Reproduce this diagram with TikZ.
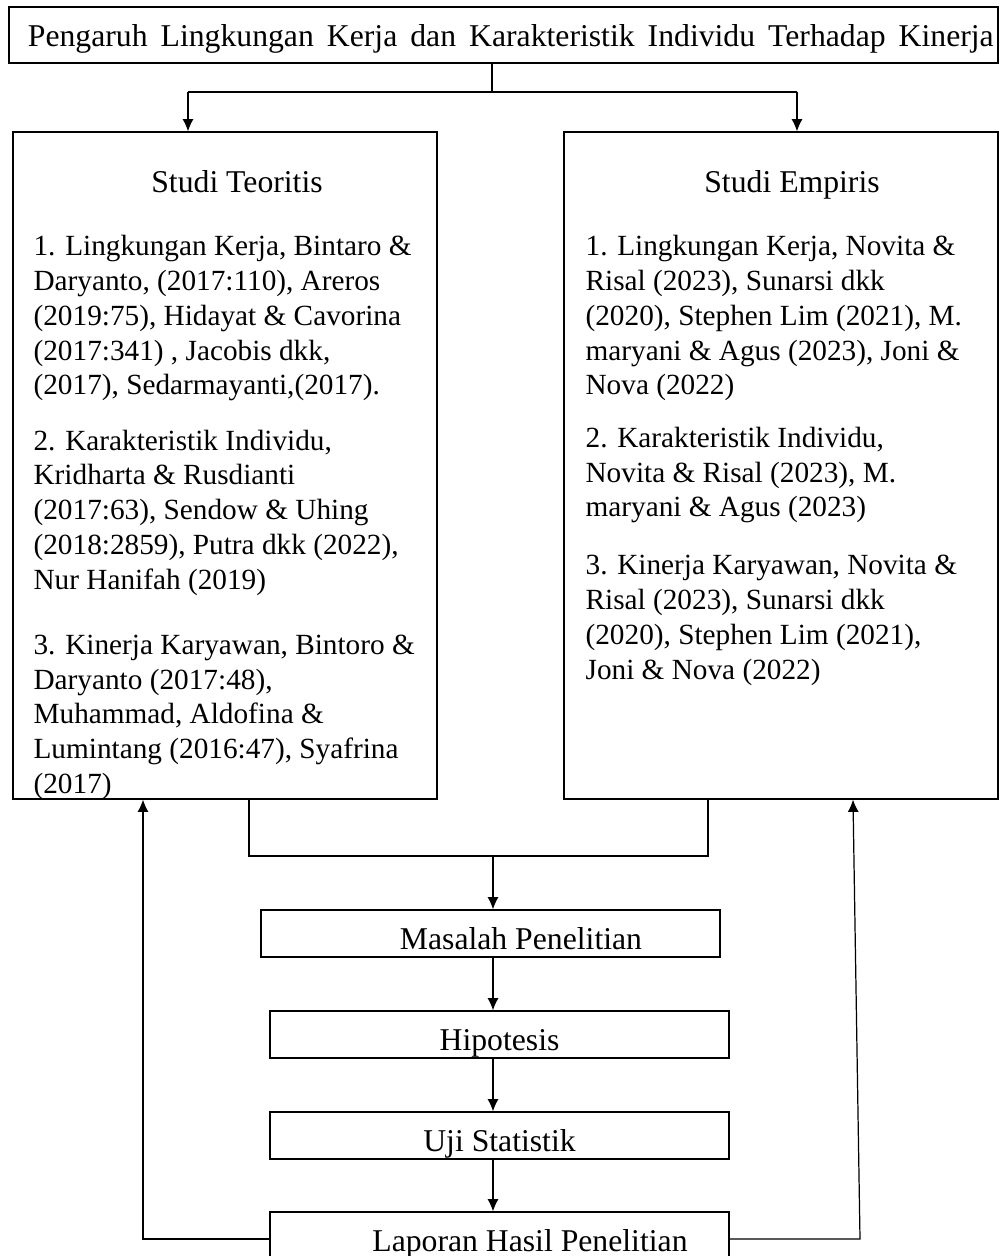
\documentclass[tikz,border=0pt]{standalone}
\usepackage{fontspec}
\setmainfont{Liberation Serif}
\usetikzlibrary{arrows.meta}

\begin{document}
\begin{tikzpicture}[x=0.41pt,y=-0.41pt,line width=0.5pt,font=\fontsize{12pt}{14.25pt}\selectfont]
\tikzset{besar/.style = {font=\fontsize{13pt}{15pt}\selectfont}}
\tikzset{kotak/.style = {shape=rectangle,draw,besar,inner sep=0pt,minimum width=188.2pt,
minimum height=19.3pt,text height=14pt,text depth=1pt}}
\tikzset{kolom/.style = {shape=rectangle,draw,inner sep=0pt,minimum height=273.5pt}}
\tikzset{isi/.style = {align=left,inner sep=0pt,anchor=north west}}
\tikzset{panah/.style = {-{Latex[length=5pt,width=4.5pt]}}}
\clip (0,0) rectangle (1007,1256);
% kotak
\node[draw,besar,inner sep=0pt,minimum width=405.5pt,minimum height=23pt,text height=11pt,
text depth=1.2pt] (judul) at (503.5,35)
{\hspace*{6pt}\makebox[396pt][s]{Pengaruh Lingkungan Kerja dan Karakteristik Individu Terhadap Kinerja}};
\node[kolom,minimum width=173.8pt] (teori) at (225,465.5) {};
\node[kolom,minimum width=178pt] (empiris) at (781,465.5) {};
\node[besar,anchor=base] (teorijudul) at (237,192) {Studi Teoritis};
\node[besar,anchor=base] (empirisjudul) at (792,192) {Studi Empiris};
\node[isi] (teoriisi) at (33,235) {1. Lingkungan Kerja, Bintaro \&\\
Daryanto, (2017:110), Areros\\
(2019:75), Hidayat \& Cavorina\\
(2017:341) , Jacobis dkk,\\
(2017), Sedarmayanti,(2017).\\[8.4pt]
2. Karakteristik Individu,\\
Kridharta \& Rusdianti\\
(2017:63), Sendow \& Uhing\\
(2018:2859), Putra dkk (2022),\\
Nur Hanifah (2019)\\[12.5pt]
3. Kinerja Karyawan, Bintoro \&\\
Daryanto (2017:48),\\
Muhammad, Aldofina \&\\
Lumintang (2016:47), Syafrina\\
(2017)};
\node[isi] (empirisisi) at (585,235) {1. Lingkungan Kerja, Novita \&\\
Risal (2023), Sunarsi dkk\\
(2020), Stephen Lim (2021), M.\\
maryani \& Agus (2023), Joni \&\\
Nova (2022)\\[7.2pt]
2. Karakteristik Individu,\\
Novita \& Risal (2023), M.\\
maryani \& Agus (2023)\\[9.6pt]
3. Kinerja Karyawan, Novita \&\\
Risal (2023), Sunarsi dkk\\
(2020), Stephen Lim (2021),\\
Joni \& Nova (2022)};
\node[kotak] (masalah) at (490.5,933.5) {\hspace*{25pt}Masalah Penelitian};
\node[kotak] (hipotesis) at (499.5,1034.5) {Hipotesis};
\node[kotak] (uji) at (499.5,1135.5) {Uji Statistik};
\node[kotak] (laporan) at (499.5,1235.5) {\hspace*{25pt}Laporan Hasil Penelitian};
% titik
\coordinate (cabang) at (492,92);
\coordinate (cabangkiri) at (188,92);
\coordinate (cabangkanan) at (797,92);
\coordinate (gabung) at (493,856);
\coordinate (gabungkiri) at (249,856);
\coordinate (gabungkanan) at (708,856);
\coordinate (balikkiri) at (143,1239);
\coordinate (balikkanan) at (860,1239);
\coordinate (balikatas) at (853,0);
% garis
\draw (judul.south -| cabang) -- (cabang);
\draw (cabangkiri) -- (cabangkanan);
\draw[panah] (cabangkiri) -- (cabangkiri |- teori.north);
\draw[panah] (cabangkanan) -- (cabangkanan |- empiris.north);
\draw (gabungkiri |- teori.south) -- (gabungkiri) -- (gabungkanan)
  -- (gabungkanan |- empiris.south);
\draw[panah] (gabung) -- (gabung |- masalah.north);
\draw[panah] (gabung |- masalah.south) -- (gabung |- hipotesis.north);
\draw[panah] (gabung |- hipotesis.south) -- (gabung |- uji.north);
\draw[panah] (gabung |- uji.south) -- (gabung |- laporan.north);
\draw[panah] (laporan.west |- balikkiri) -- (balikkiri) -- (balikkiri |- teori.south);
\draw[panah] (laporan.east |- balikkanan) -- (balikkanan) -- (balikatas |- empiris.south);
\end{tikzpicture}
\end{document}
